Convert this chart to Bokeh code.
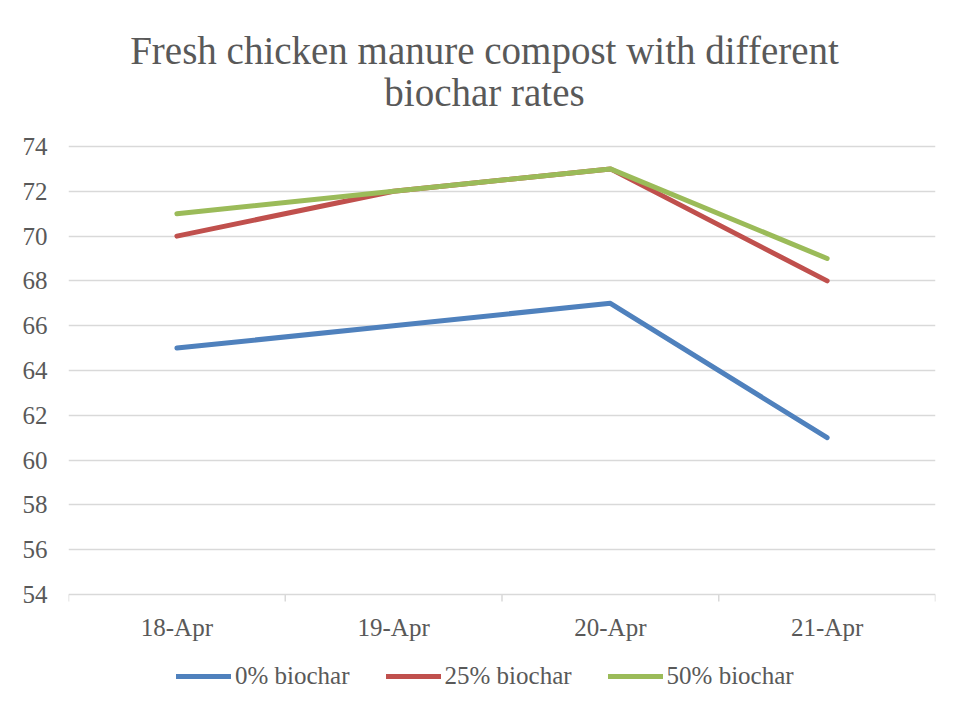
from bokeh.plotting import figure
from bokeh.models import (FactorRange, Range1d, LinearAxis, FixedTicker,
                          Legend, LegendItem, Label)
from bokeh.core.properties import value
from bokeh.embed import file_html
from bokeh.resources import INLINE

dates = ["18-Apr", "19-Apr", "20-Apr", "21-Apr"]
biochar_0 = [65, 66, 67, 61]
biochar_25 = [70, 72, 73, 68]
biochar_50 = [71, 72, 73, 69]
series_names = ["0% biochar", "25% biochar", "50% biochar"]
series_colors = ["#4F81BD", "#C0504D", "#9BBB59"]
y_ticks = [54, 56, 58, 60, 62, 64, 66, 68, 70, 72, 74]
title_lines = ["Fresh chicken manure compost with different", "biochar rates"]

FONT = "Liberation Serif"
TXT = "#595959"
GRID = "#d9d9d9"

# layout (pixels)
W, H = 955, 705
LEFT, RIGHT = 68, 935
TOP_PX, BOT_PX = 146, 594          # pixel rows of the top and bottom value ticks
Y0, Y1 = y_ticks[0], y_ticks[-1]
PPU = (BOT_PX - TOP_PX) / (Y1 - Y0)  # pixels per data unit


def y_at(px):
    return Y1 + (TOP_PX - px) / PPU


p = figure(width=W, height=H, x_range=FactorRange(*dates), y_range=Range1d(y_at(H), y_at(0)),
           output_backend="svg", toolbar_location=None, x_axis_location=None,
           y_axis_location=None)
p.min_border_left = LEFT
p.min_border_right = W - RIGHT
p.min_border_top = 0
p.min_border_bottom = 0
p.outline_line_color = None
p.background_fill_color = "white"
p.border_fill_color = "white"

# y axis
yax = LinearAxis(ticker=FixedTicker(ticks=y_ticks))
yax.axis_line_color = None
yax.major_tick_out = 0
yax.major_tick_in = 0
yax.minor_tick_out = 0
yax.minor_tick_in = 0
yax.major_label_standoff = 21
yax.major_label_text_font = FONT
yax.major_label_text_font_size = "25px"
yax.major_label_text_color = TXT
p.add_layout(yax, "left")

p.ygrid.ticker = FixedTicker(ticks=y_ticks)
p.ygrid.grid_line_color = GRID
p.ygrid.grid_line_width = 1.4
p.xgrid.grid_line_color = None

# boundary ticks between categories, hanging below the axis line
bounds = list(range(len(dates) + 1))
p.segment(x0=bounds, y0=[Y0] * len(bounds), x1=bounds, y1=[y_at(BOT_PX + 7)] * len(bounds),
          line_color=GRID, line_width=1.5)

# category labels
p.text(x=dates, y=[y_at(627)] * len(dates), text=dates, text_align="center",
       text_baseline="middle", text_font=value(FONT), text_font_size="25px", text_color=TXT)

renderers = []
for vals, col in zip([biochar_0, biochar_25, biochar_50], series_colors):
    r = p.line(dates, vals, line_color=col, line_width=5, line_cap="round", line_join="round")
    renderers.append(r)

legend = Legend(items=[LegendItem(label=n, renderers=[r]) for n, r in zip(series_names, renderers)],
                orientation="horizontal", location=(176 - LEFT, H - 676 - 14))
legend.glyph_width = 55
legend.glyph_height = 20
legend.label_standoff = 4
legend.spacing = 36
legend.padding = 0
legend.margin = 0
legend.border_line_color = None
legend.background_fill_alpha = 0
legend.label_text_font = FONT
legend.label_text_font_size = "25px"
legend.label_text_color = TXT
p.add_layout(legend, "center")

for txt, py in zip(title_lines, [50, 92]):
    p.add_layout(Label(x=(484 - LEFT) / ((RIGHT - LEFT) / len(dates)), y=y_at(py), text=txt,
                       text_align="center", text_baseline="middle",
                       text_font=FONT, text_font_size="39px", text_color=TXT))

open("out.html", "w").write(file_html(p, INLINE))
